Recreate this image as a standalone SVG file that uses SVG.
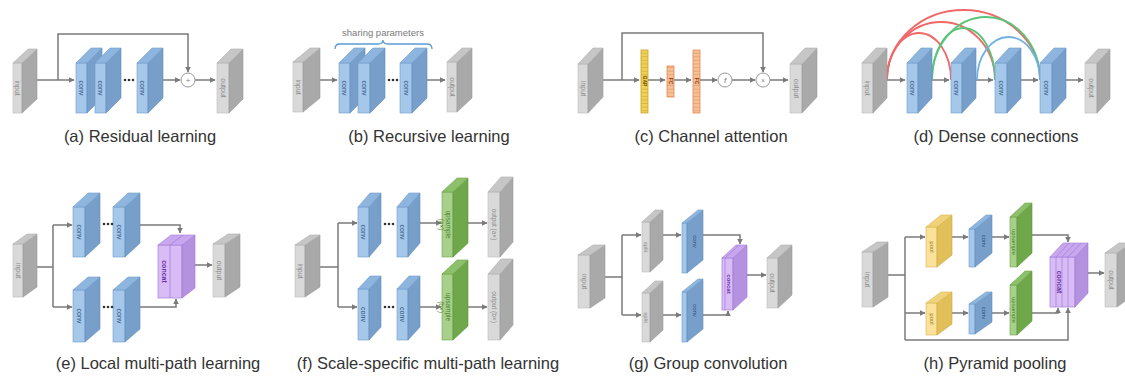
<svg xmlns="http://www.w3.org/2000/svg" width="1125" height="376" viewBox="0 0 1125 376">
<style>
.gf{fill:#d9d9d9;stroke:#bcbcbc;stroke-width:.6}
.gs{fill:#a9a9a9;stroke:#9a9a9a;stroke-width:.6}
.gt{fill:#c6c6c6;stroke:#b0b0b0;stroke-width:.6}
.bf{fill:#a4c7ea;stroke:#6f9dcc;stroke-width:.6}
.bs{fill:#779fc9;stroke:#5f8dbd;stroke-width:.6}
.bt{fill:#8db5de;stroke:#6f9dcc;stroke-width:.6}
.vf{fill:#d9bcf5;stroke:#a47ed8;stroke-width:.7}
.vs{fill:#b592e0;stroke:#9a72d2;stroke-width:.6}
.vt{fill:#c8a7ee;stroke:#a47ed8;stroke-width:.6}
.ef{fill:#a7d08a;stroke:#6ea34b;stroke-width:.6}
.es{fill:#6fa84a;stroke:#5c9338;stroke-width:.6}
.et{fill:#8cc06a;stroke:#6ea34b;stroke-width:.6}
.yf{fill:#fbe19a;stroke:#d8b550;stroke-width:.6}
.ys{fill:#e1c05a;stroke:#c9a640;stroke-width:.6}
.yt{fill:#f0d27a;stroke:#d8b550;stroke-width:.6}
.lbl{font-family:"Liberation Sans",Arial,sans-serif;font-size:7px;text-anchor:middle;dominant-baseline:central}
.lg{fill:#8a8a8a}
.lb{fill:#2d4f78}
.lv{fill:#6a2fa8;font-weight:bold}
.le{fill:#4f7f33}
.ly{fill:#9a7a20}
.cap{font-family:"Liberation Sans",Arial,sans-serif;font-size:16.5px;fill:#333;text-anchor:middle}
.ln{fill:none;stroke:#7a7a7a;stroke-width:1.5}
.ar{marker-end:url(#ah)}
.dot{fill:#333}
.circ{fill:#fff;stroke:#999;stroke-width:1}
.arc{fill:none;stroke-width:1.8}
</style>
<defs>
<marker id="ah" viewBox="0 0 10 10" refX="9" refY="5" markerWidth="4" markerHeight="4" orient="auto" markerUnits="strokeWidth">
<path d="M0,0 L10,5 L0,10 z" fill="#7a7a7a"/>
</marker>
<pattern id="py" width="7" height="3.6" patternUnits="userSpaceOnUse" y="50">
<rect width="7" height="3.6" fill="#f0cf55"/>
<path d="M0 3.3 H7" stroke="#c9a32b" stroke-width=".6"/>
</pattern>
<pattern id="po" width="7" height="3.6" patternUnits="userSpaceOnUse" y="50">
<rect width="7" height="3.6" fill="#f7bf95"/>
<path d="M0 3.3 H7" stroke="#e08a58" stroke-width=".6"/>
</pattern>
</defs>
<rect width="1125" height="376" fill="#fff"/>

<!-- connectors -->
<g id="connectors">
<!-- a -->
<path class="ln ar" d="M37 80 H74"/>
<path class="ln ar" d="M58 80 V34 H188 V72"/>
<path class="ln ar" d="M163 80 H180"/>
<path class="ln ar" d="M195 80 H215"/>
<!-- b -->
<path class="ln ar" d="M320 80 H337"/>
<path class="ln ar" d="M427 80 H445"/>
<!-- c -->
<path class="ln ar" d="M603 80 H639"/>
<path class="ln ar" d="M622 80 V33 H763 V72"/>
<path class="ln ar" d="M648 80 H665"/>
<path class="ln ar" d="M674 80 H691"/>
<path class="ln ar" d="M700 80 H717"/>
<path class="ln ar" d="M732 80 H755"/>
<path class="ln ar" d="M770 80 H788"/>
<!-- d -->
<path class="ln ar" d="M887 80 H905"/>
<path class="ln ar" d="M932 80 H949"/>
<path class="ln ar" d="M976 80 H993"/>
<path class="ln ar" d="M1021 80 H1038"/>
<path class="ln ar" d="M1066 80 H1083"/>
<path class="arc" stroke="#f06868" d="M887 80 A32 47 0 0 1 951 80"/>
<path class="arc" stroke="#f06868" d="M887 80 A54 58 0 0 1 995 80"/>
<path class="arc" stroke="#f06868" d="M887 80 A76.5 70 0 0 1 1040 80"/>
<path class="arc" stroke="#5cc47a" d="M932 80 A31.5 52 0 0 1 995 80"/>
<path class="arc" stroke="#5cc47a" d="M932 80 A54 63 0 0 1 1040 80"/>
<path class="arc" stroke="#6fb2e6" d="M977 80 A31.5 43 0 0 1 1040 80"/>
<!-- e -->
<path class="ln" d="M37 267 H53 M53 225 V307"/>
<path class="ln ar" d="M53 225 H72"/>
<path class="ln ar" d="M53 307 H72"/>
<path class="ln ar" d="M140 225 H180 V233"/>
<path class="ln ar" d="M140 307 H176 V299"/>
<path class="ln ar" d="M195 265 H212"/>
<!-- f -->
<path class="ln" d="M320 267 H338 M338 223 V307"/>
<path class="ln ar" d="M338 223 H357"/>
<path class="ln ar" d="M338 307 H357"/>
<path class="ln ar" d="M420 223 H441"/>
<path class="ln ar" d="M420 307 H441"/>
<path class="ln ar" d="M468 223 H487"/>
<path class="ln ar" d="M468 307 H487"/>
<!-- g -->
<path class="ln" d="M605 277 H622 M622 235 V315"/>
<path class="ln ar" d="M622 235 H641"/>
<path class="ln ar" d="M622 315 H641"/>
<path class="ln ar" d="M663 235 H681"/>
<path class="ln ar" d="M663 315 H681"/>
<path class="ln ar" d="M703 235 H740 V244"/>
<path class="ln ar" d="M703 315 H728 V311"/>
<path class="ln ar" d="M747 275 H766"/>
<!-- h -->
<path class="ln" d="M888 275 H905 M905 237 V340"/>
<path class="ln ar" d="M905 237 H925"/>
<path class="ln ar" d="M905 313 H925"/>
<path class="ln ar" d="M905 340 H1068 V308"/>
<path class="ln ar" d="M952 237 H968"/>
<path class="ln ar" d="M952 313 H968"/>
<path class="ln ar" d="M992 237 H1009"/>
<path class="ln ar" d="M992 313 H1009"/>
<path class="ln ar" d="M1032 235 H1068 V242"/>
<path class="ln ar" d="M1032 313 H1058 V308"/>
<path class="ln ar" d="M1088 273 H1104"/>
</g>

<!-- (a) -->
<g id="a-input"><rect class="gf" x="13" y="63" width="9" height="50"/><polygon class="gs" points="22,63 37,49 37,99 22,113"/><polygon class="gt" points="13,63 28,49 37,49 22,63"/><text class="lbl lg" transform="translate(17.5,88) rotate(90)">input</text></g>
<g id="a-conv1"><rect class="bf" x="76" y="63" width="11" height="50"/><polygon class="bs" points="87,63 102,48 102,98 87,113"/><polygon class="bt" points="76,63 91,48 102,48 87,63"/><text class="lbl lb" transform="translate(81.5,88) rotate(90)">conv</text></g>
<g id="a-conv2"><rect class="bf" x="95" y="63" width="11" height="50"/><polygon class="bs" points="106,63 121,48 121,98 106,113"/><polygon class="bt" points="95,63 110,48 121,48 106,63"/><text class="lbl lb" transform="translate(100.5,88) rotate(90)">conv</text></g>
<g id="a-dots"><circle class="dot" cx="125" cy="80" r="1.3"/><circle class="dot" cx="129" cy="80" r="1.3"/><circle class="dot" cx="133" cy="80" r="1.3"/></g>
<g id="a-conv3"><rect class="bf" x="137" y="63" width="11" height="50"/><polygon class="bs" points="148,63 163,48 163,98 148,113"/><polygon class="bt" points="137,63 152,48 163,48 148,63"/><text class="lbl lb" transform="translate(142.5,88) rotate(90)">conv</text></g>
<g id="a-add"><circle class="circ" cx="188" cy="80" r="7"/><text class="lbl" style="fill:#888;font-size:8px" x="188" y="80">+</text></g>
<g id="a-output"><rect class="gf" x="217" y="63" width="12" height="50"/><polygon class="gs" points="229,63 243,49 243,99 229,113"/><polygon class="gt" points="217,63 231,49 243,49 229,63"/><text class="lbl lg" transform="translate(223,88) rotate(90)">output</text></g>
<text class="cap" x="140" y="142">(a) Residual learning</text>

<!-- (b) -->
<g id="b-share"><text x="383" y="36" style="font-family:'Liberation Sans',Arial,sans-serif;font-size:9.5px;fill:#7a7a7a;text-anchor:middle">sharing parameters</text><path d="M335 49 Q335 44 340 44 H378 Q383 44 383 40 Q383 44 388 44 H427 Q432 44 432 49" fill="none" stroke="#5b9bd5" stroke-width="1.3"/></g>
<g id="b-input"><rect class="gf" x="293" y="62" width="10" height="50"/><polygon class="gs" points="303,62 320,48 320,98 303,112"/><polygon class="gt" points="293,62 310,48 320,48 303,62"/><text class="lbl lg" transform="translate(298,87) rotate(90)">input</text></g>
<g id="b-conv1"><rect class="bf" x="339" y="63" width="11" height="50"/><polygon class="bs" points="350,63 365,48 365,98 350,113"/><polygon class="bt" points="339,63 354,48 365,48 350,63"/><text class="lbl lb" transform="translate(344.5,88) rotate(90)">conv</text></g>
<g id="b-conv2"><rect class="bf" x="358" y="63" width="12" height="50"/><polygon class="bs" points="370,63 385,48 385,98 370,113"/><polygon class="bt" points="358,63 373,48 385,48 370,63"/><text class="lbl lb" transform="translate(364,88) rotate(90)">conv</text></g>
<g id="b-dots"><circle class="dot" cx="389" cy="80" r="1.3"/><circle class="dot" cx="393" cy="80" r="1.3"/><circle class="dot" cx="397" cy="80" r="1.3"/></g>
<g id="b-conv3"><rect class="bf" x="400" y="63" width="12" height="50"/><polygon class="bs" points="412,63 427,48 427,98 412,113"/><polygon class="bt" points="400,63 415,48 427,48 412,63"/><text class="lbl lb" transform="translate(406,88) rotate(90)">conv</text></g>
<g id="b-output"><rect class="gf" x="447" y="62" width="10" height="50"/><polygon class="gs" points="457,62 472,48 472,98 457,112"/><polygon class="gt" points="447,62 462,48 472,48 457,62"/><text class="lbl lg" transform="translate(452,87) rotate(90)">output</text></g>
<text class="cap" x="429" y="142">(b) Recursive learning</text>

<!-- (c) -->
<g id="c-input"><rect class="gf" x="578" y="64" width="10" height="49"/><polygon class="gs" points="588,64 603,48 603,97 588,113"/><polygon class="gt" points="578,64 593,48 603,48 588,64"/><text class="lbl lg" transform="translate(583,88.5) rotate(90)">input</text></g>
<g id="c-gap"><rect x="641" y="50" width="7" height="63" fill="url(#py)" stroke="#c9a32b" stroke-width=".8"/><text class="lbl" style="font-size:5px;fill:#6b5200;font-weight:bold" transform="translate(644.5,81) rotate(90)">GAP</text></g>
<g id="c-fc1"><rect x="667" y="66" width="7" height="31" fill="url(#po)" stroke="#e08a58" stroke-width=".8"/><text class="lbl" style="font-size:5px;fill:#8a3d12;font-weight:bold" transform="translate(670.5,81) rotate(90)">FC</text></g>
<g id="c-fc2"><rect x="693" y="50" width="7" height="63" fill="url(#po)" stroke="#e08a58" stroke-width=".8"/><text class="lbl" style="font-size:5px;fill:#8a3d12;font-weight:bold" transform="translate(696.5,81) rotate(90)">FC</text></g>
<g id="c-f"><circle class="circ" cx="725" cy="80" r="7"/><text class="lbl" style="fill:#777;font-size:8px;font-style:italic" x="725" y="80">f</text></g>
<g id="c-mul"><circle class="circ" cx="763" cy="80" r="7"/><text class="lbl" style="fill:#888;font-size:7px" x="763" y="80">×</text></g>
<g id="c-output"><rect class="gf" x="790" y="64" width="12" height="49"/><polygon class="gs" points="802,64 817,48 817,97 802,113"/><polygon class="gt" points="790,64 805,48 817,48 802,64"/><text class="lbl lg" transform="translate(796,88.5) rotate(90)">output</text></g>
<text class="cap" x="711" y="142">(c) Channel attention</text>

<!-- (d) -->
<g id="d-input"><rect class="gf" x="862" y="63" width="11" height="50"/><polygon class="gs" points="873,63 887,48 887,98 873,113"/><polygon class="gt" points="862,63 876,48 887,48 873,63"/><text class="lbl lg" transform="translate(867.5,88) rotate(90)">input</text></g>
<g id="d-conv1"><rect class="bf" x="907" y="63" width="11" height="50"/><polygon class="bs" points="918,63 932,48 932,98 918,113"/><polygon class="bt" points="907,63 921,48 932,48 918,63"/><text class="lbl lb" transform="translate(912.5,88) rotate(90)">conv</text></g>
<g id="d-conv2"><rect class="bf" x="951" y="63" width="11" height="50"/><polygon class="bs" points="962,63 976,48 976,98 962,113"/><polygon class="bt" points="951,63 965,48 976,48 962,63"/><text class="lbl lb" transform="translate(956.5,88) rotate(90)">conv</text></g>
<g id="d-conv3"><rect class="bf" x="995" y="63" width="12" height="50"/><polygon class="bs" points="1007,63 1021,48 1021,98 1007,113"/><polygon class="bt" points="995,63 1009,48 1021,48 1007,63"/><text class="lbl lb" transform="translate(1001,88) rotate(90)">conv</text></g>
<g id="d-conv4"><rect class="bf" x="1040" y="63" width="12" height="50"/><polygon class="bs" points="1052,63 1066,48 1066,98 1052,113"/><polygon class="bt" points="1040,63 1054,48 1066,48 1052,63"/><text class="lbl lb" transform="translate(1046,88) rotate(90)">conv</text></g>
<g id="d-output"><rect class="gf" x="1085" y="63" width="12" height="50"/><polygon class="gs" points="1097,63 1110,49 1110,99 1097,113"/><polygon class="gt" points="1085,63 1098,49 1110,49 1097,63"/><text class="lbl lg" transform="translate(1091,88) rotate(90)">output</text></g>
<text class="cap" x="996" y="142">(d) Dense connections</text>

<!-- (e) -->
<g id="e-input"><rect class="gf" x="13" y="244" width="10" height="53"/><polygon class="gs" points="23,244 37,234 37,287 23,297"/><polygon class="gt" points="13,244 27,234 37,234 23,244"/><text class="lbl lg" transform="translate(18,270.5) rotate(90)">input</text></g>
<g id="e-conv1"><rect class="bf" x="73" y="207" width="12" height="50"/><polygon class="bs" points="85,207 100,193 100,243 85,257"/><polygon class="bt" points="73,207 88,193 100,193 85,207"/><text class="lbl lb" transform="translate(79,232) rotate(90)">conv</text></g>
<g id="e-conv2"><rect class="bf" x="113" y="207" width="12" height="50"/><polygon class="bs" points="125,207 140,193 140,243 125,257"/><polygon class="bt" points="113,207 128,193 140,193 125,207"/><text class="lbl lb" transform="translate(119,232) rotate(90)">conv</text></g>
<g id="e-dots1"><circle class="dot" cx="104" cy="224" r="1.3"/><circle class="dot" cx="108" cy="224" r="1.3"/><circle class="dot" cx="112" cy="224" r="1.3"/></g>
<g id="e-conv3"><rect class="bf" x="73" y="290" width="12" height="52"/><polygon class="bs" points="85,290 100,277 100,329 85,342"/><polygon class="bt" points="73,290 88,277 100,277 85,290"/><text class="lbl lb" transform="translate(79,316) rotate(90)">conv</text></g>
<g id="e-conv4"><rect class="bf" x="113" y="290" width="12" height="52"/><polygon class="bs" points="125,290 140,277 140,329 125,342"/><polygon class="bt" points="113,290 128,277 140,277 125,290"/><text class="lbl lb" transform="translate(119,316) rotate(90)">conv</text></g>
<g id="e-dots2"><circle class="dot" cx="104" cy="307" r="1.3"/><circle class="dot" cx="108" cy="307" r="1.3"/><circle class="dot" cx="112" cy="307" r="1.3"/></g>
<g id="e-concat"><rect class="vf" x="158" y="245" width="24" height="53"/><polygon class="vs" points="182,245 195,235 195,288 182,298"/><polygon class="vt" points="158,245 171,235 195,235 182,245"/><path d="M170 245 V298 M170 245 L183 235" stroke="#a47ed8" stroke-width=".8"/><text class="lbl lv" transform="translate(164,271.5) rotate(90)">concat</text></g>
<g id="e-output"><rect class="gf" x="213" y="244" width="12" height="53"/><polygon class="gs" points="225,244 240,234 240,287 225,297"/><polygon class="gt" points="213,244 228,234 240,234 225,244"/><text class="lbl lg" transform="translate(219,270.5) rotate(90)">output</text></g>
<text class="cap" x="158" y="369">(e) Local multi-path learning</text>

<!-- (f) -->
<g id="f-input"><rect class="gf" x="295" y="245" width="10" height="52"/><polygon class="gs" points="305,245 320,235 320,287 305,297"/><polygon class="gt" points="295,245 310,235 320,235 305,245"/><text class="lbl lg" transform="translate(300,271) rotate(90)">input</text></g>
<g id="f-conv1"><rect class="bf" x="358" y="207" width="11" height="50"/><polygon class="bs" points="369,207 381,193 381,243 369,257"/><polygon class="bt" points="358,207 370,193 381,193 369,207"/><text class="lbl lb" transform="translate(363.5,232) rotate(90)">conv</text></g>
<g id="f-conv2"><rect class="bf" x="397" y="207" width="11" height="50"/><polygon class="bs" points="408,207 420,193 420,243 408,257"/><polygon class="bt" points="397,207 409,193 420,193 408,207"/><text class="lbl lb" transform="translate(402.5,232) rotate(90)">conv</text></g>
<g id="f-dots1"><circle class="dot" cx="385" cy="224" r="1.3"/><circle class="dot" cx="389" cy="224" r="1.3"/><circle class="dot" cx="393" cy="224" r="1.3"/></g>
<g id="f-up1"><rect class="ef" x="442" y="192" width="11" height="65"/><polygon class="es" points="453,192 468,178 468,243 453,257"/><polygon class="et" points="442,192 457,178 468,178 453,192"/><text class="lbl le" style="font-size:6.5px" transform="translate(447.5,224.5) rotate(90)"><tspan x="0" dy="-1">upsample</tspan><tspan x="0" dy="7">(a×)</tspan></text></g>
<g id="f-out1"><rect class="gf" x="488" y="192" width="12" height="65"/><polygon class="gs" points="500,192 513,177 513,242 500,257"/><polygon class="gt" points="488,192 501,177 513,177 500,192"/><text class="lbl lg" style="font-size:6.5px" transform="translate(494,224.5) rotate(90)">output (a×)</text></g>
<g id="f-conv3"><rect class="bf" x="358" y="289" width="11" height="51"/><polygon class="bs" points="369,289 381,276 381,327 369,340"/><polygon class="bt" points="358,289 370,276 381,276 369,289"/><text class="lbl lb" transform="translate(363.5,314.5) rotate(90)">conv</text></g>
<g id="f-conv4"><rect class="bf" x="397" y="289" width="11" height="51"/><polygon class="bs" points="408,289 420,276 420,327 408,340"/><polygon class="bt" points="397,289 409,276 420,276 408,289"/><text class="lbl lb" transform="translate(402.5,314.5) rotate(90)">conv</text></g>
<g id="f-dots2"><circle class="dot" cx="385" cy="307" r="1.3"/><circle class="dot" cx="389" cy="307" r="1.3"/><circle class="dot" cx="393" cy="307" r="1.3"/></g>
<g id="f-up2"><rect class="ef" x="442" y="274" width="11" height="66"/><polygon class="es" points="453,274 468,260 468,326 453,340"/><polygon class="et" points="442,274 457,260 468,260 453,274"/><text class="lbl le" style="font-size:6.5px" transform="translate(447.5,307) rotate(90)"><tspan x="0" dy="-1">upsample</tspan><tspan x="0" dy="7">(b×)</tspan></text></g>
<g id="f-out2"><rect class="gf" x="488" y="274" width="12" height="66"/><polygon class="gs" points="500,274 513,259 513,325 500,340"/><polygon class="gt" points="488,274 501,259 513,259 500,274"/><text class="lbl lg" style="font-size:6.5px" transform="translate(494,307) rotate(90)">output (b×)</text></g>
<text class="cap" x="428" y="369">(f) Scale-specific multi-path learning</text>

<!-- (g) -->
<g id="g-input"><rect class="gf" x="578" y="255" width="12" height="53"/><polygon class="gs" points="590,255 605,245 605,298 590,308"/><polygon class="gt" points="578,255 593,245 605,245 590,255"/><text class="lbl lg" transform="translate(584,281.5) rotate(90)">input</text></g>
<g id="g-split1"><rect class="gf" x="642" y="222" width="8" height="50"/><polygon class="gs" points="650,222 663,210 663,260 650,272"/><polygon class="gt" points="642,222 655,210 663,210 650,222"/><text class="lbl lg" style="font-size:6px" transform="translate(646,247) rotate(90)">split</text></g>
<g id="g-split2"><rect class="gf" x="642" y="293" width="8" height="49"/><polygon class="gs" points="650,293 663,281 663,330 650,342"/><polygon class="gt" points="642,293 655,281 663,281 650,293"/><text class="lbl lg" style="font-size:6px" transform="translate(646,317.5) rotate(90)">split</text></g>
<g id="g-conv1"><rect class="bf" x="682" y="223" width="5" height="50"/><polygon class="bs" points="687,223 703,210 703,260 687,273"/><polygon class="bt" points="682,223 698,210 703,210 687,223"/><text class="lbl lb" style="font-size:6px" transform="translate(695,241.5) rotate(90)">conv</text></g>
<g id="g-conv2"><rect class="bf" x="682" y="292" width="5" height="50"/><polygon class="bs" points="687,292 703,279 703,329 687,342"/><polygon class="bt" points="682,292 698,279 703,279 687,292"/><text class="lbl lb" style="font-size:6px" transform="translate(695,310.5) rotate(90)">conv</text></g>
<g id="g-concat"><rect class="vf" x="722" y="258" width="11" height="52"/><polygon class="vs" points="733,258 747,245 747,297 733,310"/><polygon class="vt" points="722,258 736,245 747,245 733,258"/><path d="M725 258 V310 M725 258 L739 245" stroke="#a47ed8" stroke-width=".7"/><text class="lbl lv" style="font-size:6px" transform="translate(729,284) rotate(90)">concat</text></g>
<g id="g-output"><rect class="gf" x="767" y="258" width="11" height="50"/><polygon class="gs" points="778,258 792,245 792,295 778,308"/><polygon class="gt" points="767,258 781,245 792,245 778,258"/><text class="lbl lg" transform="translate(772.5,283) rotate(90)">output</text></g>
<text class="cap" x="708" y="369">(g) Group convolution</text>

<!-- (h) -->
<g id="h-input"><rect class="gf" x="862" y="252" width="11" height="55"/><polygon class="gs" points="873,252 888,242 888,297 873,307"/><polygon class="gt" points="862,252 877,242 888,242 873,252"/><text class="lbl lg" transform="translate(867.5,279.5) rotate(90)">input</text></g>
<g id="h-pool1"><rect class="yf" x="926" y="227" width="11" height="40"/><polygon class="ys" points="937,227 952,215 952,255 937,267"/><polygon class="yt" points="926,227 941,215 952,215 937,227"/><text class="lbl ly" style="font-size:6px" transform="translate(931.5,247) rotate(90)">pool</text></g>
<g id="h-conv1"><rect class="bf" x="969" y="229" width="6" height="38"/><polygon class="bs" points="975,229 992,215 992,253 975,267"/><polygon class="bt" points="969,229 986,215 992,215 975,229"/><text class="lbl lb" style="font-size:6px" transform="translate(983.5,241) rotate(90)">conv</text></g>
<g id="h-up1"><rect class="ef" x="1010" y="217" width="7" height="50"/><polygon class="es" points="1017,217 1032,203 1032,253 1017,267"/><polygon class="et" points="1010,217 1025,203 1032,203 1017,217"/><text class="lbl le" style="font-size:6px" transform="translate(1013.5,242) rotate(90)">upsample</text></g>
<g id="h-pool2"><rect class="yf" x="926" y="303" width="11" height="32"/><polygon class="ys" points="937,303 952,292 952,324 937,335"/><polygon class="yt" points="926,303 941,292 952,292 937,303"/><text class="lbl ly" style="font-size:6px" transform="translate(931.5,319) rotate(90)">pool</text></g>
<g id="h-conv2"><rect class="bf" x="969" y="304" width="6" height="30"/><polygon class="bs" points="975,304 992,292 992,322 975,334"/><polygon class="bt" points="969,304 986,292 992,292 975,304"/><text class="lbl lb" style="font-size:6px" transform="translate(983.5,313) rotate(90)">conv</text></g>
<g id="h-up2"><rect class="ef" x="1010" y="285" width="7" height="50"/><polygon class="es" points="1017,285 1032,271 1032,321 1017,335"/><polygon class="et" points="1010,285 1025,271 1032,271 1017,285"/><text class="lbl le" style="font-size:6px" transform="translate(1013.5,310) rotate(90)">upsample</text></g>
<g id="h-concat"><rect class="vf" x="1050" y="257" width="25" height="50"/><polygon class="vs" points="1075,257 1088,243 1088,293 1075,307"/><polygon class="vt" points="1050,257 1063,243 1088,243 1075,257"/><path d="M1056 257 V307 M1056 257 L1069 243 M1062 257 V307 M1062 257 L1075 243 M1068 257 V307 M1068 257 L1081 243" stroke="#a47ed8" stroke-width=".7"/><text class="lbl lv" transform="translate(1059,282) rotate(90)">concat</text></g>
<g id="h-output"><rect class="gf" x="1105" y="253" width="12" height="54"/><polygon class="gs" points="1117,253 1131,243 1131,297 1117,307"/><polygon class="gt" points="1105,253 1119,243 1131,243 1117,253"/><text class="lbl lg" transform="translate(1111,280) rotate(90)">output</text></g>
<text class="cap" x="995" y="369">(h) Pyramid pooling</text>
</svg>
